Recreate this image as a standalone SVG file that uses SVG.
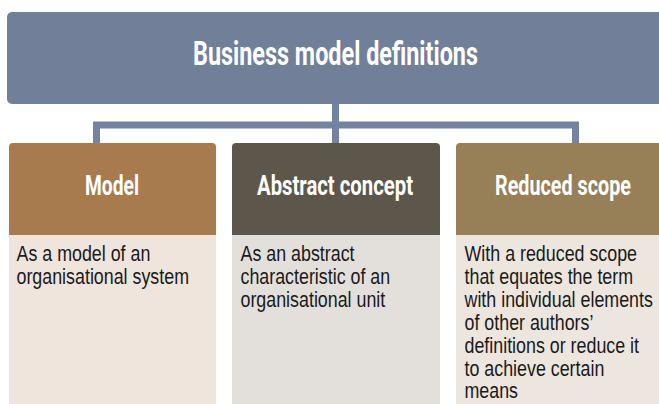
<svg xmlns="http://www.w3.org/2000/svg" width="659" height="404" viewBox="0 0 659 404">
<defs>
<style>
.title{font-family:Roboto,"DejaVu Sans",sans-serif;font-weight:bold;fill:#ffffff;}
.head{font-family:Roboto,"DejaVu Sans",sans-serif;font-weight:bold;fill:#ffffff;font-size:28.5px;}
.body{font-family:"Liberation Sans",Arial,sans-serif;font-size:21.5px;fill:#1a1a1a;}
.conn{fill:none;stroke:#7484a0;stroke-width:7;}
</style>
</defs>
<rect width="659" height="404" fill="#ffffff"/>
<g id="connectors">
<path class="conn" d="M96.5,145 V125 H575.5 V145"/>
<path class="conn" d="M335.5,100 V145"/>
</g>
<g id="root">
<rect x="7" y="12" width="665" height="92" rx="5" fill="#717f98"/>
<text class="title" x="193" y="65" font-size="32.5" textLength="285" lengthAdjust="spacingAndGlyphs">Business model definitions</text>
</g>
<g id="model">
<path d="M9,235 V147 Q9,143 13,143 H212 Q216,143 216,147 V235 Z" fill="#a87b4f"/>
<rect x="9" y="235" width="207" height="175" fill="#efe5dc"/>
<text class="head" x="85" y="195" textLength="54" lengthAdjust="spacingAndGlyphs">Model</text>
<g transform="translate(16.5,0) scale(0.83,1)">
<text class="body" x="0" y="261">As a model of an</text>
<text class="body" x="0" y="284">organisational system</text>
</g>
</g>
<g id="abstract">
<path d="M232,235 V147 Q232,143 236,143 H436 Q440,143 440,147 V235 Z" fill="#5d564b"/>
<rect x="232" y="235" width="208" height="175" fill="#e3e0dc"/>
<text class="head" x="257" y="195" textLength="156" lengthAdjust="spacingAndGlyphs">Abstract concept</text>
<g transform="translate(240.5,0) scale(0.83,1)">
<text class="body" x="0" y="261">As an abstract</text>
<text class="body" x="0" y="284">characteristic of an</text>
<text class="body" x="0" y="307">organisational unit</text>
</g>
</g>
<g id="reduced">
<path d="M456,235 V147 Q456,143 460,143 H672 V235 Z" fill="#978057"/>
<rect x="456" y="235" width="216" height="175" fill="#ece6df"/>
<text class="head" x="495" y="195" textLength="136" lengthAdjust="spacingAndGlyphs">Reduced scope</text>
<g transform="translate(464.5,0) scale(0.83,1)">
<text class="body" x="0" y="261">With a reduced scope</text>
<text class="body" x="0" y="284">that equates the term</text>
<text class="body" x="0" y="307">with individual elements</text>
<text class="body" x="0" y="330">of other authors’</text>
<text class="body" x="0" y="353">definitions or reduce it</text>
<text class="body" x="0" y="376">to achieve certain</text>
<text class="body" x="0" y="398">means</text>
</g>
</g>
</svg>
